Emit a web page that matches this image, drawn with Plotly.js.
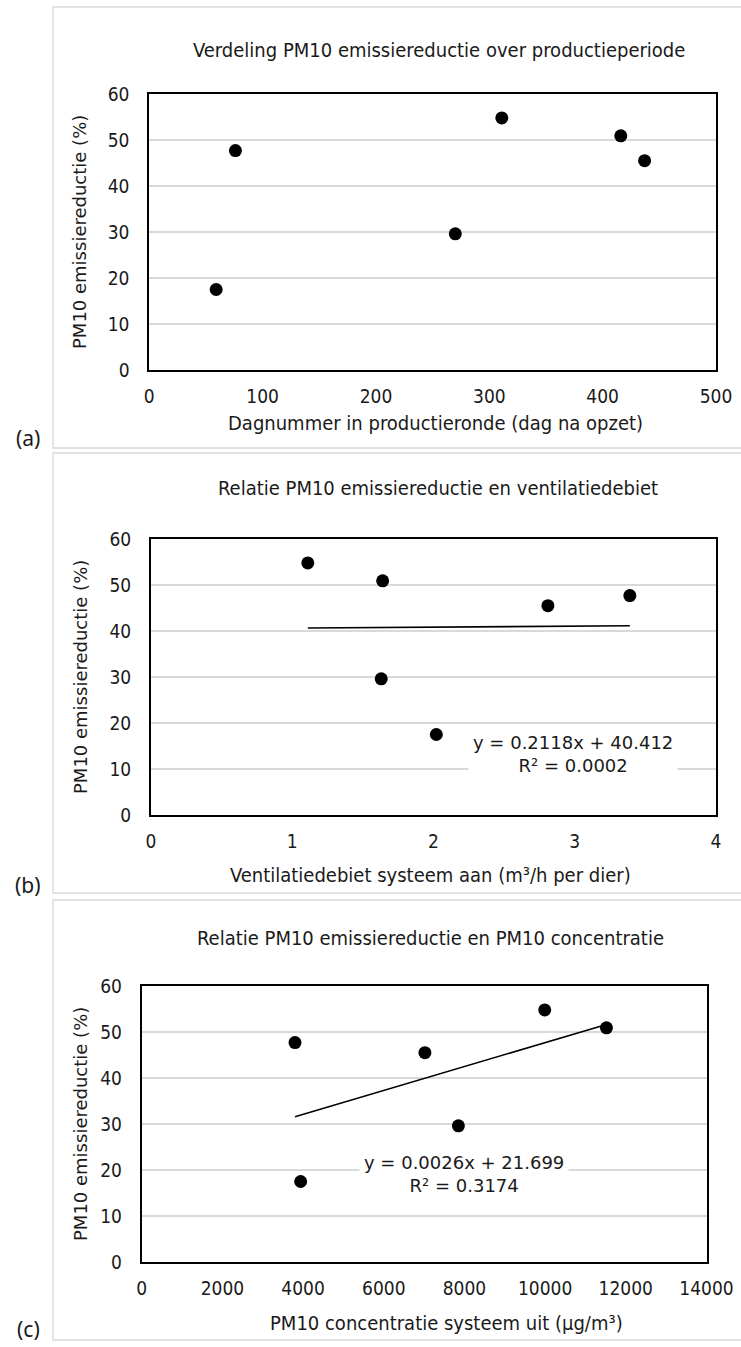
<!DOCTYPE html>
<html>
<head>
<meta charset="utf-8">
<script src="https://cdn.plot.ly/plotly-3.0.1.min.js"></script>
<style>html,body{margin:0;padding:0;background:#fff;}#chart{width:741px;height:1347px;}</style>
</head>
<body>
<div id="chart"></div>
<script>
// ---- data ----
const dayNumber = [59, 76, 270, 311, 416, 437];
const reductionByDay = [17.5, 47.7, 29.6, 54.8, 50.9, 45.5];

const ventilationRate = [1.11, 1.64, 1.63, 2.02, 2.81, 3.39];
const reductionByVent = [54.8, 50.9, 29.6, 17.5, 45.5, 47.7];

const pm10Concentration = [3800, 3940, 7020, 7850, 9990, 11520];
const reductionByConc = [47.7, 17.5, 45.5, 29.6, 54.8, 50.9];

const trendVent = {slope: 0.2118, intercept: 40.412, r2: "0.0002"};
const trendConc = {slope: 0.0026, intercept: 21.699, r2: "0.3174"};

const panelTitles = [
  "Verdeling PM10 emissiereductie over productieperiode",
  "Relatie PM10 emissiereductie en ventilatiedebiet",
  "Relatie PM10 emissiereductie en PM10 concentratie"
];
const xTitles = [
  "Dagnummer in productieronde (dag na opzet)",
  "Ventilatiedebiet systeem aan (m³/h per dier)",
  "PM10 concentratie systeem uit (µg/m³)"
];
const yTitle = "PM10 emissiereductie (%)";
const panelLabels = ["(a)", "(b)", "(c)"];

// ---- layout helpers ----
const W = 741, H = 1347;
const px = x => x / W;
const py = y => 1 - y / H;

const TICKFONT = {family: "DejaVu Sans Condensed, DejaVu Sans, sans-serif", size: 19, color: "#1a1a1a"};
const TITLEFONT = {family: "DejaVu Sans Condensed, DejaVu Sans, sans-serif", size: 20, color: "#1a1a1a"};
const YTFONT = {family: "DejaVu Sans, Verdana, sans-serif", size: 18, color: "#1a1a1a"};
const EQFONT = {family: "DejaVu Sans, Verdana, sans-serif", size: 18, color: "#1a1a1a"};
const LABFONT = {family: "Noto Sans, Open Sans, sans-serif", size: 21, color: "#1a1a1a"};

const panels = [
  {plot: [149.3, 94, 716, 370], frame: [53, 7, 760, 448], title: [439, 50], xt: [435, 423], lab: [28, 438], xr: [0, 500], dx: 100},
  {plot: [151, 539, 716, 815], frame: [53, 453, 760, 893], title: [438, 488], xt: [430, 875], lab: [28, 885], xr: [0, 4], dx: 1},
  {plot: [141.7, 986, 706.5, 1262], frame: [53, 900, 760, 1340], title: [430, 938], xt: [446, 1323], lab: [28, 1329], xr: [0, 14000], dx: 2000}
];

const layout = {
  width: W, height: H,
  margin: {l: 0, r: 0, t: 0, b: 0},
  paper_bgcolor: "#ffffff", plot_bgcolor: "#ffffff",
  showlegend: false,
  annotations: [], shapes: []
};

panels.forEach((p, i) => {
  const s = i === 0 ? "" : String(i + 1);
  layout["xaxis" + s] = {
    domain: [px(p.plot[0]), px(p.plot[2])],
    anchor: "y" + s,
    range: p.xr, dtick: p.dx, tick0: 0, tickformat: "d",
    showgrid: false, zeroline: false,
    showline: true, linecolor: "#000", linewidth: 2, mirror: true,
    ticks: "", ticklabelstandoff: 8,
    tickfont: TICKFONT, fixedrange: true
  };
  layout["yaxis" + s] = {
    domain: [py(p.plot[3]), py(p.plot[1])],
    anchor: "x" + s,
    range: [0, 60], dtick: 10, tick0: 0, tickformat: "d",
    showgrid: true, gridcolor: "#d9d9d9", gridwidth: 1.5,
    zeroline: false,
    showline: true, linecolor: "#000", linewidth: 2, mirror: true,
    ticks: "", ticklabelstandoff: 14,
    tickfont: TICKFONT, fixedrange: true
  };
  layout.shapes.push({type: "rect", xref: "paper", yref: "paper",
    x0: px(p.frame[0]), x1: px(p.frame[2]), y0: py(p.frame[3]), y1: py(p.frame[1]),
    line: {color: "#d9d9d9", width: 1.3}, layer: "below"});
  layout.annotations.push({text: panelTitles[i], xref: "paper", yref: "paper",
    x: px(p.title[0]), y: py(p.title[1]), xanchor: "center", yanchor: "middle",
    showarrow: false, font: TITLEFONT});
  layout.annotations.push({text: xTitles[i], xref: "paper", yref: "paper",
    x: px(p.xt[0]), y: py(p.xt[1]), xanchor: "center", yanchor: "middle",
    showarrow: false, font: TITLEFONT});
  layout.annotations.push({text: yTitle, xref: "paper", yref: "paper",
    x: px(80), y: py((p.plot[1] + p.plot[3]) / 2), xanchor: "center", yanchor: "middle",
    textangle: -90, showarrow: false, font: YTFONT});
  layout.annotations.push({text: panelLabels[i], xref: "paper", yref: "paper",
    x: px(p.lab[0]), y: py(p.lab[1]), xanchor: "center", yanchor: "middle",
    showarrow: false, font: LABFONT});
});

function eqText(t) {
  return "y = " + t.slope.toFixed(4) + "x + " + t.intercept.toFixed(3) + "<br>R² = " + t.r2;
}
layout.annotations.push({text: eqText(trendVent), xref: "paper", yref: "paper",
  x: px(573), y: py(753.5), xanchor: "center", yanchor: "middle", showarrow: false,
  font: EQFONT, bgcolor: "#ffffff", borderpad: 4});
layout.annotations.push({text: eqText(trendConc), xref: "paper", yref: "paper",
  x: px(464), y: py(1174), xanchor: "center", yanchor: "middle", showarrow: false,
  font: EQFONT, bgcolor: "#ffffff", borderpad: 4});

function trendLine(xs, t, xa, ya) {
  const lo = Math.min(...xs), hi = Math.max(...xs);
  return {type: "scatter", mode: "lines", x: [lo, hi],
    y: [t.slope * lo + t.intercept, t.slope * hi + t.intercept],
    xaxis: xa, yaxis: ya, line: {color: "#000", width: 1.6}, hoverinfo: "skip"};
}
const mk = {color: "#000", size: 13};
const data = [
  {type: "scatter", mode: "markers", x: dayNumber, y: reductionByDay, xaxis: "x", yaxis: "y", marker: mk},
  trendLine(ventilationRate, trendVent, "x2", "y2"),
  {type: "scatter", mode: "markers", x: ventilationRate, y: reductionByVent, xaxis: "x2", yaxis: "y2", marker: mk},
  trendLine(pm10Concentration, trendConc, "x3", "y3"),
  {type: "scatter", mode: "markers", x: pm10Concentration, y: reductionByConc, xaxis: "x3", yaxis: "y3", marker: mk}
];

Plotly.newPlot("chart", data, layout, {staticPlot: true, displayModeBar: false});
</script>
</body>
</html>
